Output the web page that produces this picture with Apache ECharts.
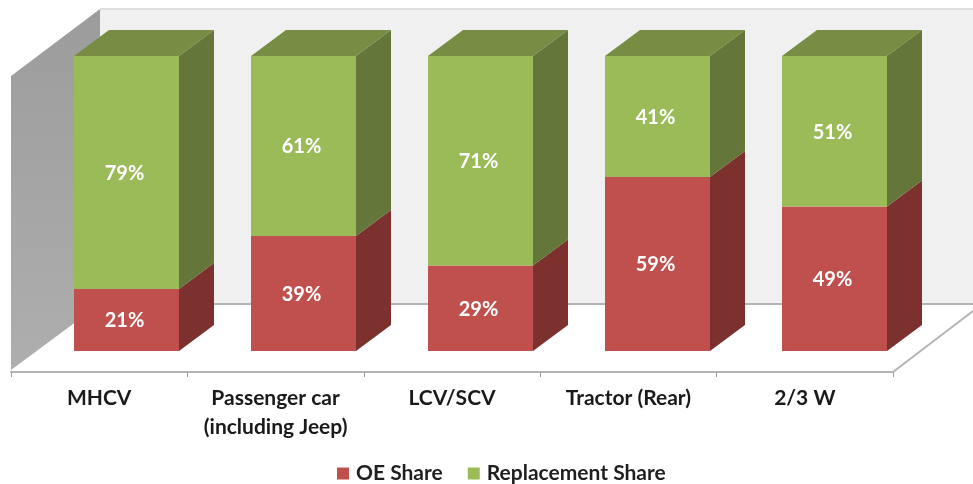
<!DOCTYPE html>
<html>
<head>
<meta charset="utf-8">
<style>html,body{margin:0;padding:0;background:#fff}#c{width:973px;height:484px}</style>
<script src="https://cdn.jsdelivr.net/npm/echarts@6/dist/echarts.min.js"></script>
</head>
<body>
<div id="c"></div>
<script>
var categories = ['MHCV', 'Passenger car\n(including Jeep)', 'LCV/SCV', 'Tractor (Rear)', '2/3 W'];
var oeShare = [21, 39, 29, 59, 49];
var replacementShare = [79, 61, 71, 41, 51];

var FONT = 'Lato';
var BAR_W = 105, DX = 35, DY = -26;
var RED = '#C0504D', RED_SIDE = '#7C312F';
var GREEN = '#9BBB59', GREEN_SIDE = '#65763A', GREEN_TOP = '#768D43';

var faces = [];
categories.forEach(function (c, i) {
  faces.push([i, 0, oeShare[i], 0]);
  faces.push([i, oeShare[i], oeShare[i] + replacementShare[i], 1]);
});

function renderFaces(params, api) {
  var i = api.value(0), lo = api.value(1), hi = api.value(2), green = api.value(3) === 1;
  var a = api.coord([i, lo]), b = api.coord([i, hi]);
  var xl = a[0] - BAR_W / 2, xr = a[0] + BAR_W / 2;
  var kids = [{
    type: 'polygon',
    shape: { points: [[xr, a[1]], [xr, b[1]], [xr + DX, b[1] + DY], [xr + DX, a[1] + DY]] },
    style: { fill: green ? GREEN_SIDE : RED_SIDE }
  }];
  if (green) {
    kids.push({
      type: 'polygon',
      shape: { points: [[xl, b[1]], [xr, b[1]], [xr + DX, b[1] + DY], [xl + DX, b[1] + DY]] },
      style: { fill: GREEN_TOP }
    });
  }
  return { type: 'group', children: kids };
}

function renderRoom(params, api) {
  var g = params.coordSys;
  var left = g.x, right = g.x + g.width, bottom = g.y + g.height;
  var floorFront = bottom + 21, floorBack = bottom - 47, wallTop = g.y - 47, wallLeftTop = g.y + 20;
  var backX = left + 89, pageRight = right + 80;
  return {
    type: 'group',
    children: [
      { type: 'rect', shape: { x: backX, y: wallTop, width: pageRight - backX, height: floorBack - wallTop },
        style: { fill: '#F0F0F0' } },
      { type: 'line', shape: { x1: backX, y1: wallTop, x2: pageRight, y2: wallTop },
        style: { stroke: '#DEDEDE', lineWidth: 2 } },
      { type: 'line', shape: { x1: backX, y1: floorBack, x2: pageRight, y2: floorBack },
        style: { stroke: '#B4B4B4', lineWidth: 2 } },
      { type: 'polygon', shape: { points: [[left, wallLeftTop], [backX, wallTop], [backX, floorBack], [left, floorFront - 2]] },
        style: { fill: { type: 'linear', x: 0, y: 0, x2: 0, y2: 1,
          colorStops: [{ offset: 0, color: '#9C9C9C' }, { offset: 1, color: '#AEAEAE' }] } } },
      { type: 'line', shape: { x1: right, y1: floorFront, x2: pageRight, y2: floorFront - 61 },
        style: { stroke: '#B4B4B4', lineWidth: 2 } }
    ]
  };
}

var chart = echarts.init(document.getElementById('c'), null, { renderer: 'canvas' });
chart.setOption({
  animation: false,
  backgroundColor: '#fff',
  textStyle: { fontFamily: FONT },
  legend: {
    data: ['OE Share', 'Replacement Share'],
    left: 332, top: 458,
    icon: 'rect', itemWidth: 12, itemHeight: 12, itemGap: 25,
    textStyle: { fontFamily: FONT, fontWeight: 'bold', fontSize: 21, color: '#1F1F1F', padding: [0, 0, 0, 2] }
  },
  grid: [
    { left: 11, top: 56, width: 882, height: 295 },
    { left: 38, top: 56, width: 885, height: 295 }
  ],
  xAxis: [
    { type: 'category', gridIndex: 0, data: categories, offset: 21,
      axisLine: { onZero: false, lineStyle: { color: '#B4B4B4', width: 2 } },
      axisTick: { show: true, length: 5, lineStyle: { color: '#A0A0A0', width: 1 } },
      axisLabel: { fontFamily: FONT, fontWeight: 'bold', fontSize: 21, color: '#1A1A1A', lineHeight: 29, margin: 12, interval: 0 } },
    { type: 'category', gridIndex: 1, data: categories, show: false }
  ],
  yAxis: [
    { type: 'value', gridIndex: 0, min: 0, max: 100, show: false },
    { type: 'value', gridIndex: 1, min: 0, max: 100, show: false }
  ],
  series: [
    { type: 'custom', name: 'room', xAxisIndex: 0, yAxisIndex: 0, z: 0, silent: true,
      renderItem: renderRoom, data: [[0, 0]], encode: { x: 0, y: 1 } },
    { type: 'custom', name: 'faces', xAxisIndex: 1, yAxisIndex: 1, z: 1, silent: true,
      renderItem: renderFaces, data: faces, encode: { x: 0, y: [1, 2] } },
    { type: 'bar', name: 'OE Share', xAxisIndex: 1, yAxisIndex: 1, stack: 'a', z: 2, barWidth: BAR_W,
      data: oeShare, itemStyle: { color: RED },
      label: { show: true, position: 'inside', offset: [-2, 1], formatter: '{c}%', color: '#fff', fontFamily: FONT, fontWeight: 'bold', fontSize: 20 } },
    { type: 'bar', name: 'Replacement Share', xAxisIndex: 1, yAxisIndex: 1, stack: 'a', z: 2, barWidth: BAR_W,
      data: replacementShare, itemStyle: { color: GREEN },
      label: { show: true, position: 'inside', offset: [-2, 1], formatter: '{c}%', color: '#fff', fontFamily: FONT, fontWeight: 'bold', fontSize: 20 } }
  ]
});
</script>
</body>
</html>
